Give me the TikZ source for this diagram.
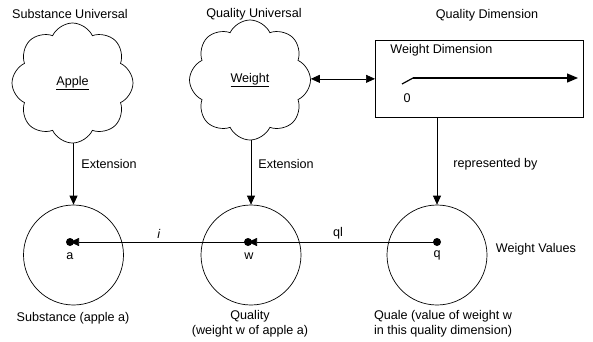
\documentclass[tikz,border=0pt]{standalone}
\usepackage{fontspec}
\setmainfont{Liberation Sans}
\usetikzlibrary{shapes.symbols,arrows.meta}
\begin{document}
\begin{tikzpicture}[x=1pt,y=-1pt,
  lbl/.style={font=\fontsize{12.6}{15}\selectfont, inner sep=0},
  cl/.style={cloud, cloud puffs=8, cloud puff arc=130, draw, minimum width=121, minimum height=120, aspect=1, inner sep=0, font=\fontsize{12.6}{15}\selectfont},
  big/.style={circle, draw, minimum size=100, inner sep=0},
  dot/.style={circle, fill, minimum size=8, inner sep=0},
  arr/.style={-{Triangle[length=9,width=8]}},
  darr/.style={{Triangle[length=9,width=8]}-{Triangle[length=9,width=8]}},
  line width=0.7]
\useasboundingbox (0,0) rectangle (593,341);

% titles
\node[lbl] (t1) at (70,14) {Substance Universal};
\node[lbl] (t2) at (254,14) {Quality Universal};
\node[lbl] (t3) at (487,15) {Quality Dimension};

% clouds
\node[cl, shape border rotate=8] (acloud) at (72.5,83) {\underline{Apple}};
\node[cl, shape border rotate=8] (wcloud) at (250,80) {\underline{Weight}};

% dimension box
\node[draw, minimum width=208, minimum height=77, anchor=north west, inner sep=0] (box) at (375,40) {};
\node[lbl, anchor=west] (wd) at (390,50) {Weight Dimension};
\coordinate (ax0) at (413,78);
\coordinate (ax1) at (578,78);
\coordinate (sl0) at (402,84);
\draw[line width=1.2] (sl0) -- (ax0);
\draw[-{Triangle[length=11,width=9]}, line width=1.2] (ax0) -- (ax1);
\node[lbl] (zero) at (407,98) {0};

\draw[darr] (wcloud.east |- box.west) -- (box.west);

% circles
\node[big] (acirc) at (73.5,255) {};
\node[big] (wcirc) at (251,255) {};
\node[big] (qcirc) at (437,255) {};

\coordinate (a) at (70,242);
\coordinate (w) at (248,242);
\coordinate (q) at (437,242);

% horizontal arrows
\draw[arr] (q) -- (w);
\draw[arr] (w) -- (a);

\node[dot] (da) at (a) {};
\node[dot] (dw) at (w) {};
\node[dot] (dq) at (q) {};
\node[lbl] (la) at (70,256) {a};
\node[lbl] (lw) at (249,256) {w};
\node[lbl] (lq) at (437,255) {q};

% vertical arrows
\draw[arr] (acirc.north |- acloud.south) -- (acirc.north);
\draw[arr] (wcirc.north |- wcloud.south) -- (wcirc.north);
\draw[arr] (qcirc.north |- box.south) -- (qcirc.north);
\node[lbl, anchor=west] (e1) at (81,164) {Extension};
\node[lbl, anchor=west] (e2) at (258,164) {Extension};
\node[lbl, anchor=west] (rb) at (453,164) {represented by};

\node[lbl] (li) at (159,234) {\textit{i}};
\node[lbl] (lql) at (338,233) {ql};

% bottom labels
\node[lbl] (s1) at (73,318) {Substance (apple a)};
\node[lbl, align=center] (s2) at (250,324) {Quality\\(weight w of apple a)};
\node[lbl, align=center] (s3) at (443,324) {Quale (value of weight w\\in this quality dimension)};
\node[lbl] (wv) at (536,249) {Weight Values};
\end{tikzpicture}
\end{document}
